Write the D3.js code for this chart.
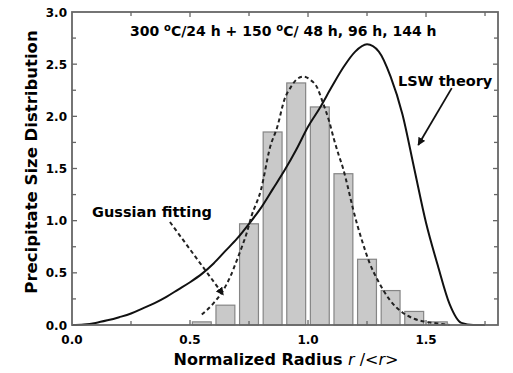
<!DOCTYPE html>
<html><head><meta charset="utf-8">
<script src="https://cdn.jsdelivr.net/npm/d3@7"></script>
<style>
html,body{margin:0;padding:0;background:#fff;}
svg{display:block;}
text{font-family:"DejaVu Sans",sans-serif;font-weight:bold;fill:#000;}
</style></head>
<body>
<svg id="chart" width="513" height="373"></svg>
<script>
// ---- data ----
const barCenters = [0.55, 0.65, 0.75, 0.85, 0.95, 1.05, 1.15, 1.25, 1.35, 1.45, 1.55];
const barValues  = [0.03, 0.19, 0.97, 1.85, 2.32, 2.09, 1.45, 0.63, 0.33, 0.13, 0.03];
const barWidth = 0.08;

const lswX = [0, 0.05, 0.1, 0.15, 0.2, 0.25, 0.3, 0.35, 0.4, 0.45, 0.5, 0.55, 0.6, 0.65, 0.7, 0.75, 0.8, 0.85, 0.9, 0.95, 1.0, 1.05, 1.1, 1.15, 1.2, 1.25, 1.3, 1.35, 1.4, 1.45, 1.5, 1.55, 1.6, 1.65, 1.7, 1.75];
const lswY = [0, 0.005, 0.02, 0.045, 0.075, 0.11, 0.16, 0.21, 0.27, 0.34, 0.41, 0.49, 0.59, 0.71, 0.83, 0.97, 1.12, 1.3, 1.48, 1.68, 1.9, 2.08, 2.28, 2.47, 2.62, 2.69, 2.62, 2.38, 2.02, 1.5, 0.98, 0.57, 0.2, 0.02, 0, 0];

const gaussX = [0.55, 0.6, 0.64, 0.67, 0.7, 0.72, 0.74, 0.76, 0.8, 0.84, 0.87, 0.9, 0.93, 0.95, 0.98, 1.01, 1.04, 1.06, 1.09, 1.11, 1.13, 1.15, 1.17, 1.19, 1.21, 1.23, 1.26, 1.3, 1.35, 1.4, 1.45, 1.5, 1.55, 1.6];
const gaussY = [0.1, 0.21, 0.33, 0.46, 0.63, 0.75, 0.88, 1.04, 1.29, 1.71, 1.9, 2.16, 2.29, 2.35, 2.38, 2.35, 2.27, 2.15, 1.95, 1.78, 1.63, 1.49, 1.31, 1.12, 0.95, 0.8, 0.6, 0.41, 0.23, 0.12, 0.06, 0.03, 0.015, 0.0];

const xMajorTicks = [0.0, 0.5, 1.0, 1.5];
const xTickLabels = ["0.0", "0.5", "1.0", "1.5"];
const xMinorTicks = [0.25, 0.75, 1.25, 1.75];
const yMajorTicks = [0.0, 0.5, 1.0, 1.5, 2.0, 2.5, 3.0];
const yTickLabels = ["0.0", "0.5", "1.0", "1.5", "2.0", "2.5", "3.0"];
const yMinorTicks = [0.25, 0.75, 1.25, 1.75, 2.25, 2.75];

const titleText = "300 °C/24 h + 150 °C/ 48 h, 96 h, 144 h";
const yLabel = "Precipitate Size Distribution";
const gaussLabel = "Gussian fitting";
const lswLabel = "LSW theory";
// annotation anchors (data coordinates)
const gaussArrow = [[0.415, 0.987], [0.641, 0.29]];
const lswArrow = [[1.609, 2.27], [1.467, 1.725]];

// ---- layout ----
const svg = d3.select("#chart");
const L = 72, R = 498, T = 12, B = 325;
const x = d3.scaleLinear().domain([0, 1.805]).range([L, R]);
const y = d3.scaleLinear().domain([0, 3]).range([B, T]);

svg.append("defs").append("marker")
  .attr("id", "ah").attr("viewBox", "0 0 10 10").attr("refX", 9).attr("refY", 5)
  .attr("markerWidth", 8).attr("markerHeight", 8).attr("markerUnits", "userSpaceOnUse")
  .attr("orient", "auto")
  .append("path").attr("d", "M0,0 L10,5 L0,10 z").attr("fill", "#111");

// bars
svg.append("g").selectAll("rect").data(barCenters).join("rect")
  .attr("x", (d) => x(d - barWidth / 2))
  .attr("width", (d) => x(d + barWidth / 2) - x(d - barWidth / 2))
  .attr("y", (d, i) => y(barValues[i]))
  .attr("height", (d, i) => y(0) - y(barValues[i]))
  .attr("fill", "#c9c9c9").attr("stroke", "#858585").attr("stroke-width", 1.2);

// curves
const line = d3.line().x((d) => x(d[0])).y((d) => y(d[1])).curve(d3.curveMonotoneX);
svg.append("path").datum(lswX.map((v, i) => [v, lswY[i]]))
  .attr("d", line).attr("fill", "none").attr("stroke", "#111").attr("stroke-width", 2);
svg.append("path").datum(gaussX.map((v, i) => [v, gaussY[i]]))
  .attr("d", line).attr("fill", "none").attr("stroke", "#222").attr("stroke-width", 2)
  .attr("stroke-dasharray", "4,3");

// frame
svg.append("rect").attr("x", L).attr("y", T).attr("width", R - L).attr("height", B - T)
  .attr("fill", "none").attr("stroke", "#666").attr("stroke-width", 1.8);

// ticks (inward, all four sides)
const tg = svg.append("g").attr("stroke", "#666").attr("stroke-width", 1.3);
function xt(vals, len) {
  vals.forEach((v) => {
    tg.append("line").attr("x1", x(v)).attr("x2", x(v)).attr("y1", B).attr("y2", B - len);
    tg.append("line").attr("x1", x(v)).attr("x2", x(v)).attr("y1", T).attr("y2", T + len);
  });
}
function yt(vals, len) {
  vals.forEach((v) => {
    tg.append("line").attr("y1", y(v)).attr("y2", y(v)).attr("x1", L).attr("x2", L + len);
    tg.append("line").attr("y1", y(v)).attr("y2", y(v)).attr("x1", R).attr("x2", R - len);
  });
}
xt(xMajorTicks.slice(1), 5); xt(xMinorTicks, 4);
yt(yMajorTicks.slice(1, -1), 5); yt(yMinorTicks, 4);

// tick labels
svg.append("g").selectAll("text").data(xMajorTicks).join("text")
  .attr("x", (d) => x(d)).attr("y", B + 19).attr("text-anchor", "middle")
  .attr("font-size", 12).text((d, i) => xTickLabels[i]);
svg.append("g").selectAll("text").data(yMajorTicks).join("text")
  .attr("x", L - 5).attr("y", (d) => y(d) + 4.5).attr("text-anchor", "end")
  .attr("font-size", 12).text((d, i) => yTickLabels[i]);

// axis titles
const xl = svg.append("text").attr("x", 286).attr("y", 365).attr("text-anchor", "middle")
  .attr("font-size", 16);
xl.append("tspan").text("Normalized Radius ");
xl.append("tspan").attr("font-style", "italic").attr("font-weight", "normal").text("r");
xl.append("tspan").attr("font-weight", "normal").text(" /<");
xl.append("tspan").attr("font-style", "italic").attr("font-weight", "normal").text("r");
xl.append("tspan").attr("font-weight", "normal").text(">");

svg.append("text").attr("transform", "translate(37,162) rotate(-90)")
  .attr("text-anchor", "middle").attr("font-size", 16.5).text(yLabel);

// title with superscript degree
const tt = svg.append("text").attr("x", 130).attr("y", 36).attr("font-size", 14);
const parts = titleText.split("°");
parts.forEach((p, i) => {
  if (i > 0) tt.append("tspan").attr("dy", -5).attr("font-size", 10).text("o");
  tt.append("tspan").attr("dy", i > 0 ? 5 : 0).text(p);
});

// annotations
svg.append("text").attr("x", x(0.085)).attr("y", y(1.035)).attr("font-size", 14.5).text(gaussLabel);
svg.append("text").attr("x", x(1.381)).attr("y", y(2.29)).attr("font-size", 14.5).text(lswLabel);

svg.append("line")
  .attr("x1", x(gaussArrow[0][0])).attr("y1", y(gaussArrow[0][1]))
  .attr("x2", x(gaussArrow[1][0])).attr("y2", y(gaussArrow[1][1]))
  .attr("stroke", "#222").attr("stroke-width", 2).attr("stroke-dasharray", "4,3")
  .attr("marker-end", "url(#ah)");
svg.append("line")
  .attr("x1", x(lswArrow[0][0])).attr("y1", y(lswArrow[0][1]))
  .attr("x2", x(lswArrow[1][0])).attr("y2", y(lswArrow[1][1]))
  .attr("stroke", "#111").attr("stroke-width", 1.8)
  .attr("marker-end", "url(#ah)");
</script>
</body></html>
